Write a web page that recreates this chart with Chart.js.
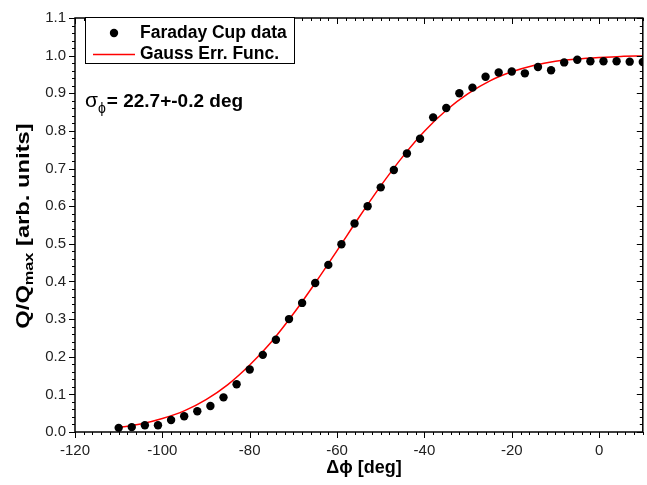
<!DOCTYPE html>
<html><head><meta charset="utf-8">
<script src="https://cdn.jsdelivr.net/npm/chart.js@4.4.1/dist/chart.umd.min.js"></script>
<style>html,body{margin:0;padding:0;background:#fff;}#wrap{width:647px;height:485px;}</style>
</head><body><div id="wrap"><canvas id="c" width="647" height="485"></canvas></div>
<script>
// ---- data ----
const dataX = [-110,-107,-104,-101,-98,-95,-92,-89,-86,-83,-80,-77,-74,-71,-68,-65,-62,-59,-56,-53,-50,-47,-44,-41,-38,-35,-32,-29,-26,-23,-20,-17,-14,-11,-8,-5,-2,1,4,7,10];
const dataY = [0.011,0.013,0.018,0.018,0.032,0.042,0.055,0.069,0.092,0.127,0.166,0.205,0.245,0.300,0.343,0.396,0.444,0.499,0.554,0.600,0.650,0.696,0.740,0.779,0.836,0.861,0.900,0.915,0.944,0.955,0.958,0.953,0.970,0.961,0.982,0.989,0.985,0.985,0.985,0.984,0.983];
const fitX = [-110,-105,-100,-95,-90,-85,-80,-75,-70,-65,-60,-55,-50,-45,-40,-35,-30,-25,-20,-15,-10,-5,0,5,10];
const fitY = [0.012,0.021,0.036,0.056,0.086,0.126,0.178,0.240,0.314,0.396,0.482,0.570,0.654,0.731,0.799,0.855,0.899,0.933,0.957,0.974,0.985,0.991,0.995,0.998,0.999];
const xTicks = [-120,-100,-80,-60,-40,-20,0];
const yTicks = [0.0,0.1,0.2,0.3,0.4,0.5,0.6,0.7,0.8,0.9,1.0,1.1];
const seriesLabels = ['Faraday Cup data','Gauss Err. Func.'];
const xTitle = ['\u0394\u03d5',' [deg]'];
const yTitle = ['Q/Q','max',' [arb. units]'];
const annot = ['\u03c3','\u03d5','= 22.7+-0.2 deg'];

const FONT = '"Liberation Sans", Arial, Helvetica, sans-serif';

const frame = {
  id:'frame',
  afterDraw(chart){
    const ctx = chart.ctx, a = chart.chartArea;
    const xs = chart.scales.x, ys = chart.scales.y;
    ctx.save();
    ctx.strokeStyle = '#000';
    ctx.lineWidth = 1.5;
    ctx.strokeRect(a.left, a.top, a.right-a.left, a.bottom-a.top);
    ctx.lineWidth = 1;
    ctx.beginPath();
    for (let v=-120; v<=10.001; v+=2){
      const p = Math.round(xs.getPixelForValue(v))+0.5;
      const major = xTicks.some(t=>Math.abs(t-v)<1e-6);
      const L = major?6:3;
      ctx.moveTo(p,a.bottom); ctx.lineTo(p,a.bottom+L);
      ctx.moveTo(p,a.top); ctx.lineTo(p,a.top+L);
    }
    for (let i=0;i<=55;i++){
      const v=i*0.02;
      const p = Math.round(ys.getPixelForValue(v))+0.5;
      const major = (i%5===0);
      const L = major?6:3;
      ctx.moveTo(a.left,p); ctx.lineTo(a.left-L,p);
      ctx.moveTo(a.right,p); ctx.lineTo(a.right-L,p);
    }
    ctx.stroke();

    // legend
    ctx.fillStyle='#fff';
    ctx.fillRect(85,17,210,47);
    ctx.strokeStyle='#000';
    ctx.lineWidth=1;
    ctx.strokeRect(85.5,17.5,209,46);
    ctx.fillStyle='#000';
    ctx.beginPath(); ctx.arc(114,33,4.2,0,Math.PI*2); ctx.fill();
    ctx.strokeStyle='#ff0000'; ctx.lineWidth=1.5;
    ctx.beginPath(); ctx.moveTo(93,54.5); ctx.lineTo(135,54.5); ctx.stroke();
    ctx.fillStyle='#000';
    ctx.font = 'bold 17.5px '+FONT;
    ctx.textBaseline='middle'; ctx.textAlign='left';
    ctx.fillText(seriesLabels[0],140,33);
    ctx.fillText(seriesLabels[1],140,54);

    // annotation
    ctx.textBaseline='alphabetic';
    ctx.font = '21px '+FONT;
    ctx.fillText(annot[0],85,107);
    let w = ctx.measureText(annot[0]).width;
    ctx.font = '14px '+FONT;
    ctx.fillText(annot[1],85+w,113);
    w += ctx.measureText(annot[1]).width;
    ctx.font = 'bold 19px '+FONT;
    ctx.fillText(annot[2],86+w,107);

    // x title
    ctx.font = 'bold 18px '+FONT;
    ctx.textAlign='center'; ctx.textBaseline='middle';
    ctx.fillText(xTitle[0]+xTitle[1],364,468);

    // y title rotated (stretched along its length as in the reference)
    ctx.translate(22,226);
    ctx.rotate(-Math.PI/2);
    ctx.scale(1.25,1);
    const big='bold 19px '+FONT, small='bold 13px '+FONT;
    ctx.font=big;
    const w1=ctx.measureText(yTitle[0]).width;
    const w3=ctx.measureText(yTitle[2]).width;
    ctx.font=small;
    const w2=ctx.measureText(yTitle[1]).width;
    let x0=-(w1+w2+w3)/2;
    ctx.textAlign='left'; ctx.textBaseline='alphabetic';
    ctx.font=big;
    ctx.fillText(yTitle[0],x0,7);
    ctx.font=small;
    ctx.fillText(yTitle[1],x0+w1,11);
    ctx.font=big;
    ctx.fillText(yTitle[2],x0+w1+w2,7);
    ctx.restore();
  }
};

new Chart(document.getElementById('c'),{
  type:'scatter',
  data:{datasets:[
    {label:seriesLabels[0], data:dataX.map((x,i)=>({x, y:dataY[i]})), showLine:false,
     pointRadius:4.2, pointBackgroundColor:'#000', pointBorderColor:'#000', pointBorderWidth:0},
    {label:seriesLabels[1], data:fitX.map((x,i)=>({x, y:fitY[i]})), showLine:true,
     borderColor:'#ff0000', borderWidth:1.5, pointRadius:0, cubicInterpolationMode:'monotone', fill:false}
  ]},
  options:{
    responsive:false, animation:false, devicePixelRatio:1,
    layout:{padding:{left:0,right:2,top:15,bottom:0}},
    plugins:{legend:{display:false}, tooltip:{enabled:false}},
    scales:{
      x:{type:'linear', min:-120, max:10,
        afterBuildTicks(s){ s.ticks = xTicks.map(v=>({value:v})); },
        afterFit(s){ s.height = 53; },
        grid:{display:false, drawTicks:false}, border:{display:false},
        ticks:{padding:10, color:'#222', font:{family:FONT, size:15}, maxRotation:0, autoSkip:false}
      },
      y:{type:'linear', min:0, max:1.1,
        afterBuildTicks(s){ s.ticks = yTicks.map(v=>({value:v})); },
        afterFit(s){ s.width = 75; },
        grid:{display:false, drawTicks:false}, border:{display:false},
        ticks:{padding:9, color:'#222', font:{family:FONT, size:15}, autoSkip:false,
          callback:v=>Number(v).toFixed(1)}
      }
    }
  },
  plugins:[frame]
});
</script></body></html>
